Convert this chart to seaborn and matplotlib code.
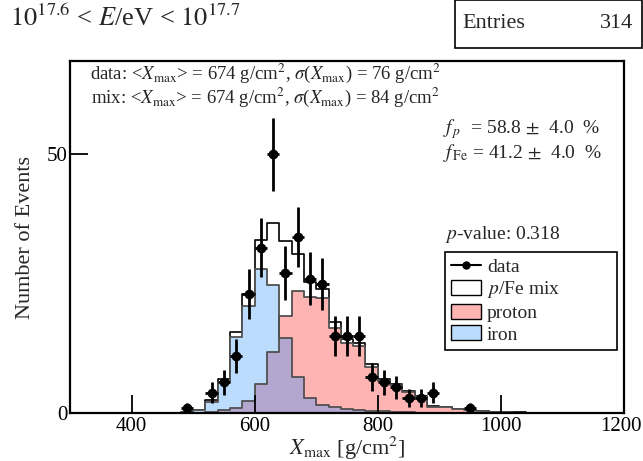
import numpy as np
import pandas as pd
import matplotlib
matplotlib.use("Agg")
import matplotlib.pyplot as plt
import seaborn as sns
from matplotlib.patches import Patch, Rectangle
from matplotlib.lines import Line2D
from matplotlib.transforms import ScaledTranslation

# Xmax binning, 20 g/cm2 bins (lower edges)
bin_lo = list(range(360, 1160, 20))

# fitted proton and iron templates (events per bin)
proton = [0.01, 0.01, 0.02, 0.02, 0.03, 0.04, 0.05, 0.1, 0.3, 0.6,
          1.0, 2.4, 5.7, 11.9, 18.8, 23.6, 22.5, 22.3, 16.4, 13.5,
          12.9, 9.0, 6.3, 5.5, 4.2, 3.2, 1.3, 1.2, 0.8, 0.6,
          0.4, 0.3, 0.2, 0.15, 0.12, 0.1, 0.08, 0.06, 0.05, 0.04]
iron = [0.02, 0.03, 0.04, 0.05, 0.06, 0.1, 0.2, 0.6, 2.2, 6.0,
        14.7, 20.7, 27.8, 24.8, 14.5, 7.1, 2.9, 1.6, 1.15, 0.83,
        0.6, 0.45, 0.35, 0.25, 0.2, 0.15, 0.1, 0.08, 0.06, 0.05,
        0.04, 0.03, 0.02, 0.02, 0.02, 0.01, 0.01, 0.01, 0.01, 0.01]

# measured events
data_x = [490, 530, 550, 570, 590, 610, 630, 650, 670, 690, 710,
          730, 750, 770, 790, 810, 830, 850, 870, 890, 950]
data_n = [1, 4, 6, 11, 23, 32, 50, 27, 34, 26, 25,
          15, 15, 15, 7, 6, 5, 3, 3, 4, 1]

bw = 20
edges = bin_lo + [bin_lo[-1] + bw]
df = pd.DataFrame({"x": np.array(bin_lo) + bw / 2, "p": proton, "fe": iron})
df["mix"] = df["p"] + df["fe"]
df["both"] = np.minimum(df["p"], df["fe"])

sns.set_theme(style="ticks")
plt.rcParams["font.family"] = ["Liberation Serif", "DejaVu Serif"]
plt.rcParams["mathtext.fontset"] = "stix"

pink = "#ffb4b4"
blue = "#bcdcfe"
purple = "#b3a7cf"
edge = "#505050"

W, H = 643, 461
fig = plt.figure(figsize=(6.43, 4.61), dpi=100)
ax = fig.add_axes([70 / W, 1 - 413.3 / H, 554 / W, 352.3 / H])

kw = dict(x="x", bins=edges, element="step", ax=ax, alpha=1, legend=False)
sns.histplot(df, weights="mix", fill=True, color="white", edgecolor="black", linewidth=1.2, **kw)
sns.histplot(df, weights="p", fill=True, color=pink, linewidth=0, **kw)
sns.histplot(df, weights="fe", fill=True, color=blue, linewidth=0, **kw)
sns.histplot(df, weights="both", fill=True, color=purple, linewidth=0, **kw)
sns.histplot(df, weights="p", fill=False, color=edge, linewidth=1.3, **kw)
sns.histplot(df, weights="fe", fill=False, color=edge, linewidth=1.3, **kw)

ax.errorbar(data_x, data_n, xerr=bw / 2, yerr=np.sqrt(data_n), fmt="o",
            color="black", ms=6, elinewidth=2, capsize=0, zorder=4)

ax.set_xlim(300, 1200)
ax.set_ylim(0, 68)
ax.set_xticks([400, 600, 800, 1000, 1200])
ax.set_yticks([0, 50])
ax.set_axisbelow(False)
ax.tick_params(direction="in", length=13, width=1.3, labelsize=15, pad=3,
               colors="black")
ax.tick_params(axis="y", pad=2)
last = ax.get_xticklabels()[-1]
last.set_transform(last.get_transform() + ScaledTranslation(-3 / 100, 0, fig.dpi_scale_trans))
for s in ax.spines.values():
    s.set_linewidth(1.6)
    s.set_color("black")
    s.set_zorder(5)
ax.set_xlabel(r"$X_{\rm max}$ [g/cm$^2$]", fontsize=16, labelpad=-1)
ax.set_ylabel("Number of Events", fontsize=16, labelpad=8)

fig.text(10 / W, 1 - 18 / H, r"$10^{17.6}$ < $E$/eV < $10^{17.7}$", fontsize=19,
         ha="left", va="center")

# stats box
fig.patches.append(Rectangle((455 / W, 1 - 48 / H), 187 / W, 48 / H,
                             transform=fig.transFigure, facecolor="white",
                             edgecolor="black", lw=1.2, zorder=6))
fig.text(462 / W, 1 - 24 / H, "Entries", fontsize=16, ha="left", va="center", zorder=7)
fig.text(633 / W, 1 - 24 / H, "314", fontsize=16, ha="right", va="center", zorder=7)

stats = (r"data: <$X_{\rm max}$> = 674 g/cm$^2$, $\sigma$($X_{\rm max}$) = 76 g/cm$^2$"
         "\n"
         r"mix: <$X_{\rm max}$> = 674 g/cm$^2$, $\sigma$($X_{\rm max}$) = 84 g/cm$^2$")
fig.text(265 / W, 1 - 85 / H, stats, fontsize=13.5, ha="center", va="center",
         multialignment="center", linespacing=1.05)

fig.text(443 / W, 1 - 129 / H, r"$f_{\,p}$  = 58.8 $\pm$  4.0  %", fontsize=14, va="center")
fig.text(443 / W, 1 - 153 / H, r"$f_{\,\rm Fe}$ = 41.2 $\pm$  4.0  %", fontsize=14, va="center")
fig.text(445 / W, 1 - 234 / H, r"$p$-value: 0.318", fontsize=14, va="center")

handles = [
    Line2D([], [], color="black", marker="o", ms=5, lw=1.5),
    Patch(facecolor="white", edgecolor="black", lw=1),
    Patch(facecolor=pink, edgecolor="black", lw=1),
    Patch(facecolor=blue, edgecolor="black", lw=1),
]
labels = ["data", r"$p$/Fe mix", "proton", "iron"]
leg = fig.legend(handles, labels, loc="upper left",
                 bbox_to_anchor=(445 / W, 1 - 343 / H, 172 / W, 91 / H),
                 bbox_transform=fig.transFigure, mode="expand",
                 fontsize=14, frameon=True, fancybox=False, framealpha=1,
                 edgecolor="black", borderpad=0.3, labelspacing=0.17,
                 handlelength=1.55, handleheight=0.82, handletextpad=0.3,
                 borderaxespad=0)
leg.get_frame().set_linewidth(1.2)
leg.set_zorder(6)

fig.savefig("out.png", dpi=100)
